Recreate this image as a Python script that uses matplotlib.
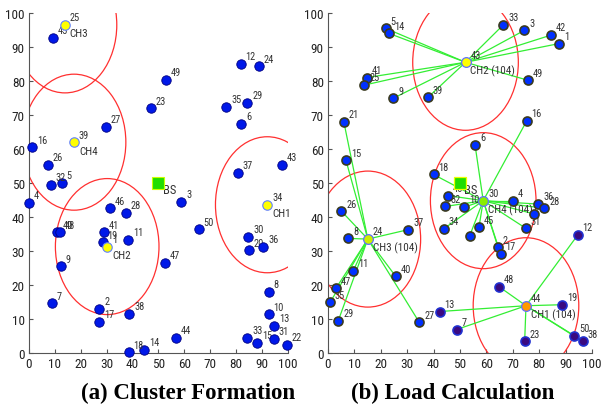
import numpy as np
import matplotlib.pyplot as plt
from matplotlib.patches import Circle

plt.rcParams['font.family'] = ['Roboto Condensed', 'Liberation Sans', 'DejaVu Sans']

# (a) cluster formation: node ids and positions
a_ids = [1, 2, 3, 4, 5, 6, 7, 8, 9, 10, 11, 12, 13, 14, 15, 16, 17, 18, 19, 20,
         22, 23, 24, 25, 26, 27, 28, 29, 30, 31, 32, 33, 34, 35, 36, 37, 38, 39,
         40, 41, 43, 44, 45, 46, 47, 48, 49, 50]
a_x = [30.2, 27.2, 58.8, 0.0, 12.7, 82.0, 8.8, 92.5, 12.4, 92.5, 38.3, 81.7, 94.6, 44.4,
       88.2, 1.3, 27.2, 38.5, 28.4, 84.9, 99.5, 47.0, 88.8, 13.9, 7.3, 29.6, 37.5, 84.3,
       84.7, 94.6, 8.5, 84.3, 92.0, 76.2, 90.5, 80.6, 38.7, 17.4, 11.0, 29.0, 97.8, 56.8,
       9.1, 31.1, 52.5, 11.8, 53.0, 65.6]
a_y = [31.3, 12.9, 44.4, 44.1, 50.0, 67.4, 14.6, 17.9, 25.5, 11.4, 33.3, 85.0, 8.0, 1.0,
       3.0, 60.5, 9.2, 0.2, 32.5, 30.2, 2.4, 72.0, 84.3, 96.5, 55.3, 66.6, 41.2, 73.6,
       34.1, 4.1, 49.4, 4.4, 43.6, 72.4, 31.3, 52.9, 11.6, 62.0, 35.5, 35.5, 55.3, 4.5,
       92.7, 42.6, 26.6, 35.5, 80.3, 36.4]
a_ch_ids = [34, 1, 25, 39]
a_ch_names = ['CH1', 'CH2', 'CH3', 'CH4']

bs_x, bs_y = 50, 50
radius = 20

# (b) load calculation: cluster heads and members
b_ch_ids = [44, 43, 24, 30]
b_ch_names = ['CH1', 'CH2', 'CH3', 'CH4']
b_ch_x = [75.0, 52.1, 15.1, 58.8]
b_ch_y = [13.9, 85.5, 33.5, 44.8]
b_ch_load = [104, 104, 104, 104]

b_ids = ['13', '7', '48', '12', '19', '23', '50', '38',
         '5', '14', '41', '25', '9', '39', '33', '3', '42', '1', '49',
         '21', '15', '26', '8', '37', '11', '40', '47', '35', '29', '27',
         '18', '6', '16', '4', '36', '28', '', '31', '10', '46', '32', '34', '45', '', '2', '17']
b_x = [42.3, 48.7, 64.8, 94.6, 88.8, 74.5, 93.3, 96.5,
       21.8, 23.1, 14.6, 13.8, 24.7, 37.9, 66.4, 74.4, 84.5, 87.5, 75.8,
       6.0, 6.8, 5.1, 7.7, 30.5, 9.6, 25.7, 3.0, 0.8, 3.9, 34.6,
       40.0, 55.7, 75.3, 70.1, 79.6, 81.9, 78.1, 74.9, 51.7, 45.3, 44.5, 43.8, 57.2, 53.7, 64.4, 65.4]
b_y = [12.2, 6.9, 19.5, 34.7, 14.2, 3.4, 5.1, 3.4,
       95.5, 94.0, 81.0, 78.8, 74.9, 75.2, 96.5, 94.9, 93.5, 91.0, 80.2,
       68.0, 56.7, 41.7, 33.7, 36.3, 24.2, 22.5, 19.0, 14.9, 9.5, 9.0,
       52.5, 61.2, 68.3, 44.8, 43.8, 42.6, 40.9, 36.7, 42.9, 46.3, 43.1, 36.5, 37.0, 34.5, 31.1, 29.1]
b_cluster = [0] * 8 + [1] * 11 + [2] * 11 + [3] * 16

fig = plt.figure(figsize=(6.05, 4.1), dpi=100)
ax1 = fig.add_axes([0.0479, 0.1366, 0.4281, 0.8293])
ax2 = fig.add_axes([0.5421, 0.1366, 0.4364, 0.8293])

for ax in (ax1, ax2):
    ax.set_xlim(0, 100)
    ax.set_ylim(0, 100)
    ax.set_xticks(np.arange(0, 101, 10))
    ax.set_yticks(np.arange(0, 101, 10))
    for s in ['top', 'right']:
        ax.spines[s].set_visible(False)
    for s in ['left', 'bottom']:
        ax.spines[s].set_color('#555555')
    ax.tick_params(direction='in', length=3, color='#555555', labelsize=9.5,
                   labelcolor='#222222', pad=3)

lab_kw = dict(textcoords='offset points', color='#333333', ha='left', va='center')

# ---------- (a) ----------
ch_pos = {}
for i, n in enumerate(a_ids):
    if n in a_ch_ids:
        ch_pos[n] = (a_x[i], a_y[i])
        continue
    ax1.plot(a_x[i], a_y[i], 'o', ms=6.8, mfc='#0018e8', mec='#000080', mew=0.6,
             clip_on=False, zorder=3)
    ax1.annotate(str(n), (a_x[i], a_y[i]), xytext=(3.5, 5.5), fontsize=7.5, **lab_kw)

for n, name in zip(a_ch_ids, a_ch_names):
    cx, cy = ch_pos[n]
    ax1.add_patch(Circle((cx, cy), radius, fill=False, ec='#ff3030', lw=0.9, zorder=2))
    ax1.plot(cx, cy, 'o', ms=6.8, mfc='#ffff00', mec='#6080ff', mew=0.8, zorder=4)
    ax1.annotate(str(n), (cx, cy), xytext=(3.5, 5.5), fontsize=7.5, **lab_kw)
    ax1.annotate(name, (cx, cy), xytext=(3.5, -6), fontsize=8, **lab_kw)

ax1.plot(bs_x, bs_y, 's', ms=8.5, mfc='#22dd00', mec='#ccff00', mew=0.8, zorder=5)
ax1.annotate('BS', (bs_x, bs_y), xytext=(3, -5), fontsize=9, **lab_kw)

# ---------- (b) ----------
for k in range(len(b_ch_ids)):
    ax2.add_patch(Circle((b_ch_x[k], b_ch_y[k]), radius, fill=False, ec='#ff3030',
                         lw=0.9, zorder=2))

for i in range(len(b_ids)):
    k = b_cluster[i]
    ax2.plot([b_x[i], b_ch_x[k]], [b_y[i], b_ch_y[k]], color='#33ee33', lw=0.9, zorder=3)

for i in range(len(b_ids)):
    if b_cluster[i] == 0:
        fc, ec = '#3a0a80', '#2030d0'
    else:
        fc, ec = '#0030ff', '#3a3a20'
    ax2.plot(b_x[i], b_y[i], 'o', ms=6.5, mfc=fc, mec=ec, mew=1.2, clip_on=False, zorder=4)
    if b_ids[i]:
        ax2.annotate(b_ids[i], (b_x[i], b_y[i]), xytext=(3.5, 5.5), fontsize=7.5, **lab_kw)

head_colors = ['#ff9900', '#ffff00', '#ccee00', '#88ee00']
for k in range(len(b_ch_ids)):
    ax2.plot(b_ch_x[k], b_ch_y[k], 'o', ms=7, mfc=head_colors[k], mec='#6070ff', mew=0.9,
             zorder=5)
    ax2.annotate(str(b_ch_ids[k]), (b_ch_x[k], b_ch_y[k]), xytext=(3.5, 5.5),
                 fontsize=7.5, **lab_kw)
    ax2.annotate(f'{b_ch_names[k]} ({b_ch_load[k]})', (b_ch_x[k], b_ch_y[k]),
                 xytext=(3.5, -6), fontsize=8, **lab_kw)

ax2.plot(bs_x, bs_y, 's', ms=8.5, mfc='#22dd00', mec='#eeff00', mew=0.9, zorder=6)
ax2.annotate('BS', (bs_x, bs_y), xytext=(3, -5), fontsize=9, **lab_kw)

cap_kw = dict(fontsize=16.5, fontweight='bold', family='Liberation Serif',
              ha='center', va='center')
fig.text(188 / 605, 1 - 393 / 410, '(a) Cluster Formation', **cap_kw)
fig.text(453 / 605, 1 - 393 / 410, '(b) Load Calculation', **cap_kw)

fig.savefig('out.png', dpi=100)
